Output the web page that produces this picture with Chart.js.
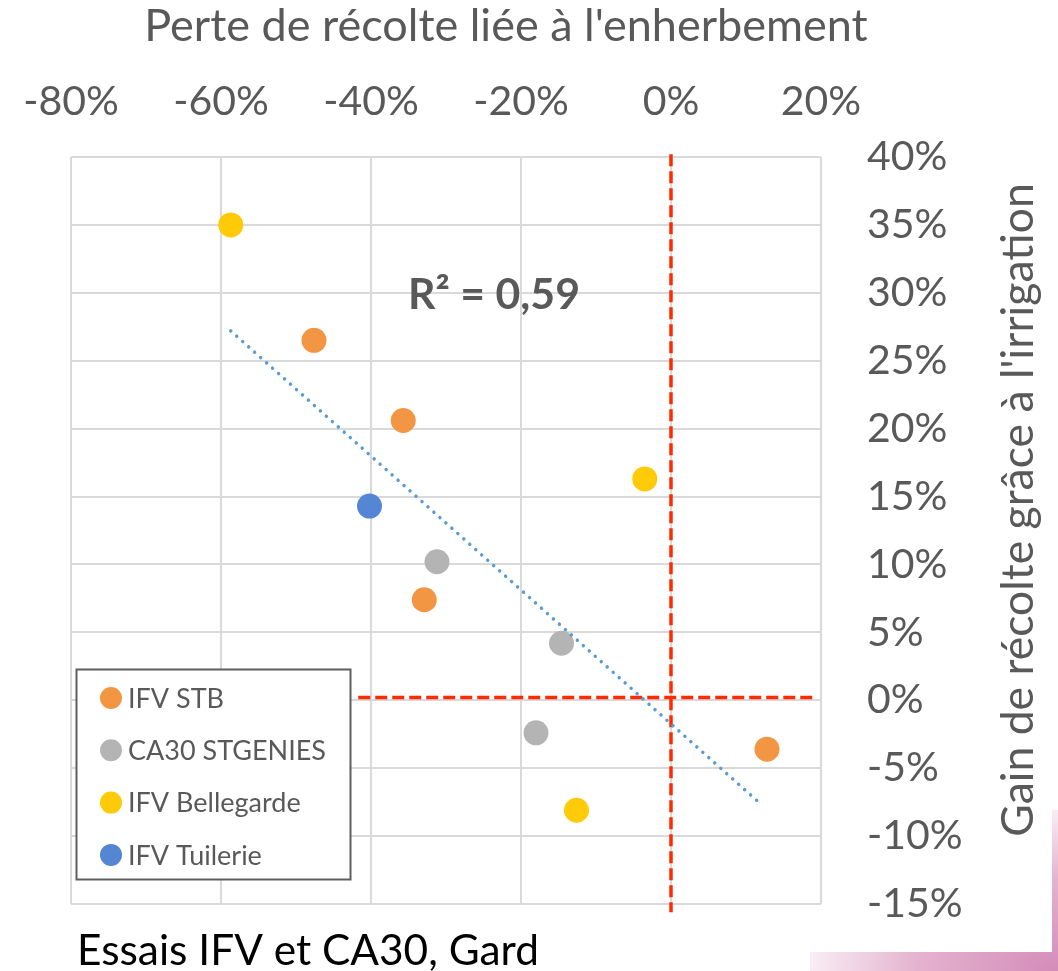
<!DOCTYPE html>
<html>
<head>
<meta charset="utf-8">
<script src="https://cdn.jsdelivr.net/npm/chart.js@4.4.1/dist/chart.umd.min.js"></script>
<style>
  html, body { margin: 0; padding: 0; background: #fff; }
  #wrap { position: relative; width: 1058px; height: 971px; overflow: hidden; }
  #pink { position: absolute; left: 810px; top: 810px; width: 248px; height: 161px;
          background: radial-gradient(ellipse at 100% 100%, #d38cb8 0%, #e4b2cf 40%, rgba(255,255,255,0) 80%); }
  #paper { position: absolute; left: 0; top: 0; width: 1052px; height: 952px; background: #fff; }
  #chart { position: absolute; left: 0; top: 0; }
</style>
</head>
<body>
<div id="wrap">
  <div id="pink"></div>
  <div id="paper"></div>
  <canvas id="chart" width="1058" height="971"></canvas>
</div>
<script>
/* Perte de récolte (enherbement) vs gain (irrigation) — scatter */

const seriesNames  = ['IFV STB', 'CA30 STGENIES', 'IFV Bellegarde', 'IFV Tuilerie'];
const seriesColors = ['#F39643', '#B4B4B4', '#FFCA08', '#5586D4'];

// x = perte liée à l'enherbement (%), y = gain grâce à l'irrigation (%)
const stbLoss = [-47.6, -35.7, -32.9, 12.8];
const stbGain = [26.5, 20.6, 7.4, -3.6];
const genLoss = [-31.2, -14.6, -18.0];
const genGain = [10.2, 4.2, -2.4];
const belLoss = [-58.7, -3.5, -12.6];
const belGain = [35.0, 16.3, -8.1];
const tuiLoss = [-40.2];
const tuiGain = [14.3];

// courbe de tendance (extrémités)
const trendLoss = [-58.7, 12.1];
const trendGain = [27.2, -7.7];

// repères rouges
const vLineLoss = [0, 0];
const vLineGain = [40.2, -15.6];
const hLineLoss = [-41.7, 19.2];
const hLineGain = [0.2, 0.2];

const xTicks = [-80, -60, -40, -20, 0, 20];
const yTicks = [40, 35, 30, 25, 20, 15, 10, 5, 0, -5, -10, -15];

const r2Text = 'R² = 0,59';
const r2At = { x: -23.6, y: 28.8 };

const xTitle = "Perte de récolte liée à l'enherbement";
const yTitle = "Gain de récolte grâce à l'irrigation";
const caption = 'Essais IFV et CA30, Gard';

const FONT = 'Lato';
const TEXT = '#595959';
const GRID = '#D9D9D9';

const pts = (xs, ys) => xs.map((x, i) => ({ x, y: ys[i] }));

const pointSet = (i, xs, ys) => ({
  label: seriesNames[i],
  data: pts(xs, ys),
  backgroundColor: seriesColors[i],
  borderColor: seriesColors[i],
  borderWidth: 0,
  pointRadius: 12.5,
  pointHoverRadius: 12.5,
  order: 2
});

const lineSet = (xs, ys, color, width, dash, extra) => Object.assign({
  label: '',
  data: pts(xs, ys),
  showLine: true,
  pointRadius: 0,
  borderColor: color,
  borderWidth: width,
  borderDash: dash,
  fill: false
}, extra);

// font size fitted to the width the text takes in the picture
function fitFont(ctx, text, weight, width) {
  ctx.font = `${weight} 100px ${FONT}`;
  const size = 100 * width / ctx.measureText(text).width;
  return `${weight} ${size.toFixed(1)}px ${FONT}`;
}

const extras = {
  id: 'extras',
  afterDatasetsDraw(chart) {
    const { ctx, scales: { x, y } } = chart;
    ctx.save();

    // R²
    ctx.font = fitFont(ctx, r2Text, 'bold', 172);
    ctx.fillStyle = TEXT;
    ctx.textAlign = 'center';
    ctx.textBaseline = 'alphabetic';
    ctx.fillText(r2Text, x.getPixelForValue(r2At.x), y.getPixelForValue(r2At.y));

    // legend box
    const bx = 76.5, by = 669.5, bw = 274, bh = 210;
    ctx.fillStyle = '#fff';
    ctx.fillRect(bx, by, bw, bh);
    ctx.strokeStyle = '#5e5e5e';
    ctx.lineWidth = 2;
    ctx.strokeRect(bx, by, bw, bh);

    ctx.font = fitFont(ctx, seriesNames[1], 'normal', 198);
    ctx.textAlign = 'left';
    ctx.textBaseline = 'middle';
    seriesNames.forEach((name, i) => {
      const cy = 698 + i * 52.3;
      ctx.beginPath();
      ctx.arc(111, cy, 11, 0, Math.PI * 2);
      ctx.fillStyle = seriesColors[i];
      ctx.fill();
      ctx.fillStyle = TEXT;
      ctx.fillText(name, 128, cy + 1);
    });
    ctx.restore();
  },
  afterDraw(chart) {
    const { ctx } = chart;
    ctx.save();
    ctx.fillStyle = TEXT;
    ctx.textBaseline = 'alphabetic';
    ctx.textAlign = 'center';

    ctx.font = fitFont(ctx, xTitle, 'normal', 724);
    ctx.fillText(xTitle, 506, 41);

    ctx.font = fitFont(ctx, yTitle, 'normal', 654);
    ctx.translate(1033, 510);
    ctx.rotate(-Math.PI / 2);
    ctx.fillText(yTitle, 0, 0);
    ctx.setTransform(1, 0, 0, 1, 0, 0);

    ctx.fillStyle = '#000';
    ctx.textAlign = 'left';
    ctx.font = fitFont(ctx, caption, 'normal', 462);
    ctx.fillText(caption, 77, 965);
    ctx.restore();
  }
};

new Chart(document.getElementById('chart'), {
  type: 'scatter',
  data: {
    datasets: [
      lineSet(trendLoss, trendGain, '#5B9BD5', 3.5, [0.01, 8], { borderCapStyle: 'round', order: 0 }),
      lineSet(vLineLoss, vLineGain, '#FF2A00', 3.5, [12, 5], { order: 1, clip: false }),
      lineSet(hLineLoss, hLineGain, '#FF2A00', 3.5, [12, 5], { order: 1 }),
      pointSet(0, stbLoss, stbGain),
      pointSet(1, genLoss, genGain),
      pointSet(2, belLoss, belGain),
      pointSet(3, tuiLoss, tuiGain)
    ]
  },
  options: {
    responsive: false,
    animation: false,
    layout: { autoPadding: false, padding: { left: 71, top: 0, right: 0, bottom: 67 } },
    scales: {
      x: {
        type: 'linear',
        position: 'top',
        min: xTicks[0],
        max: xTicks[xTicks.length - 1],
        afterBuildTicks: s => { s.ticks = xTicks.map(v => ({ value: v })); },
        afterFit: s => { s.height = 157; s.paddingLeft = 0; s.paddingRight = 0; },
        ticks: {
          callback: v => v + '%',
          font: { family: FONT, size: 41 },
          color: TEXT,
          padding: 31,
          maxRotation: 0
        },
        grid: { color: GRID, lineWidth: 2, drawTicks: false },
        border: { display: false }
      },
      y: {
        type: 'linear',
        position: 'right',
        min: yTicks[yTicks.length - 1],
        max: yTicks[0],
        afterBuildTicks: s => { s.ticks = yTicks.slice().reverse().map(v => ({ value: v })); },
        afterFit: s => { s.width = 237; s.paddingTop = 0; s.paddingBottom = 0; },
        ticks: {
          callback: v => v + '%',
          font: { family: FONT, size: 41 },
          color: TEXT,
          padding: 46
        },
        grid: { color: GRID, lineWidth: 2, drawTicks: false },
        border: { display: false }
      }
    },
    plugins: {
      legend: { display: false },
      tooltip: { enabled: false },
      title: { display: false }
    }
  },
  plugins: [extras]
});
</script>
</body>
</html>
